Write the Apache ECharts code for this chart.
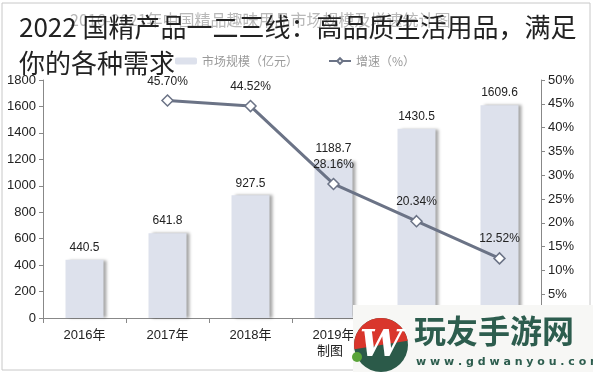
<!DOCTYPE html>
<html><head><meta charset="utf-8">
<script src="https://cdn.jsdelivr.net/npm/echarts@6/dist/echarts.min.js"></script>
<style>html,body{margin:0;padding:0;background:#fff}#c{width:593px;height:372px}</style>
</head><body><div id="c"></div>
<script>
var categories = ['2016年','2017年','2018年','2019年','2020年','2021年'];
var marketSize = [440.5, 641.8, 927.5, 1188.7, 1430.5, 1609.6];
var growthRate = [null, 45.70, 44.52, 28.16, 20.34, 12.52];
var barName = '市场规模（亿元）';
var lineName = '增速（%）';
var titleText = '2022 国精产品一二三线：高品质生活用品，满足\n你的各种需求';
var ghostTitle = '2016-2021年中国精品趣味用品市场规模及增速统计图';

var FONT = '"Liberation Sans", Arial, "Noto Sans CJK SC", sans-serif';
var chart = echarts.init(document.getElementById('c'));
chart.setOption({
  animation: false,
  backgroundColor: '#fff',
  textStyle: {fontFamily: FONT},
  title: {
    text: titleText, left: 14, top: 4, z: 20,
    textStyle: {fontFamily: '"Noto Sans CJK SC", sans-serif', fontSize: 26, lineHeight: 36, fontWeight: 'normal', color: '#222'}
  },
  legend: {
    left: 170, top: 50, itemGap: 30, itemWidth: 22, itemHeight: 7,
    textStyle: {color: '#9a9a9a', fontSize: 12, fontFamily: '"Noto Sans CJK SC", sans-serif'},
    data: [{name: barName, icon: 'roundRect'}, {name: lineName}]
  },
  grid: {left: 43, right: 52, top: 80, bottom: 54, containLabel: false},
  xAxis: {
    type: 'category', data: categories, boundaryGap: true,
    axisLine: {lineStyle: {color: '#888'}},
    axisTick: {show: true, length: 5, lineStyle: {color: '#888'}},
    axisLabel: {color: '#222', fontSize: 13, margin: 11}
  },
  yAxis: [{
    type: 'value', min: 0, max: 1800, interval: 200,
    axisLine: {show: true, lineStyle: {color: '#888'}},
    axisTick: {show: true, length: 4, lineStyle: {color: '#888'}},
    splitLine: {show: false},
    axisLabel: {color: '#222', fontSize: 13, margin: 7, formatter: function (v) { return String(v); }}
  }, {
    type: 'value', min: 0, max: 50, interval: 5, position: 'right',
    axisLine: {show: true, lineStyle: {color: '#888'}},
    axisTick: {show: true, length: 4, lineStyle: {color: '#888'}},
    splitLine: {show: false},
    axisLabel: {color: '#222', fontSize: 13, margin: 7, formatter: '{value}%'}
  }],
  series: [{
    name: barName, type: 'bar', data: marketSize, barWidth: 38,
    itemStyle: {color: '#dde1ec', shadowColor: 'rgba(0,0,0,0.35)', shadowBlur: 3, shadowOffsetX: 3, shadowOffsetY: 0},
    label: {show: true, position: 'top', distance: 6, color: '#222', fontSize: 12}
  }, {
    name: lineName, type: 'line', yAxisIndex: 1, data: growthRate,
    symbol: 'diamond', symbolSize: 11, showAllSymbol: true,
    lineStyle: {color: '#6b7386', width: 3},
    itemStyle: {color: '#fff', borderColor: '#6b7386', borderWidth: 1.5},
    label: {show: true, position: 'top', distance: 7, color: '#222', fontSize: 12,
      formatter: function (p) { return p.value == null ? '' : p.value.toFixed(2) + '%'; }},
    z: 5
  }],
  graphic: [
    {type: 'rect', shape: {x: 2, y: 3, width: 588, height: 367}, style: {fill: 'none', stroke: '#c8c8c8', lineWidth: 1}, z: 0, silent: true},
    {type: 'text', left: 70, top: 12, z: 1, silent: true,
      style: {text: ghostTitle, fontSize: 16, fill: '#b8b8b8', fontFamily: '"Noto Sans CJK SC", sans-serif'}},
    {type: 'text', left: 317, top: 344, z: 10, silent: true,
      style: {text: '制图', fontSize: 13, fill: '#222', fontFamily: '"Noto Sans CJK SC", sans-serif'}},
    {type: 'rect', shape: {x: 353, y: 305, width: 240, height: 67}, style: {fill: '#f7f7f5'}, z: 50, silent: true},
    {type: 'circle', shape: {cx: 381, cy: 345, r: 27}, style: {fill: '#2b5a49'}, z: 51, silent: true},
    {type: 'sector', shape: {cx: 381, cy: 345, r: 27, startAngle: Math.PI * 0.95, endAngle: Math.PI * 1.95}, style: {fill: '#d9362c'}, z: 52, silent: true},
    {type: 'circle', shape: {cx: 357, cy: 357, r: 5}, style: {fill: '#5aa43a'}, z: 52, silent: true},
    {type: 'text', x: 381, y: 346, z: 53, silent: true,
      style: {text: 'W', fontSize: 38, fontStyle: 'italic', fontWeight: 'bold', fill: '#fff', align: 'center', verticalAlign: 'middle', fontFamily: '"DejaVu Serif", serif'}},
    {type: 'text', x: 414, y: 331, z: 53, silent: true,
      style: {text: '玩友手游网', fontSize: 32, fontWeight: 'bold', fill: '#2d5d4e', verticalAlign: 'middle', fontFamily: '"Noto Sans CJK SC", sans-serif'}},
    {type: 'text', x: 416, y: 362, z: 53, silent: true,
      style: {text: 'w w w . g d w a n y o u . c o m', fontSize: 11, fontWeight: 'bold', fill: '#2d5d4e', verticalAlign: 'middle', fontFamily: '"DejaVu Sans", sans-serif'}}
  ]
});
</script></body></html>
